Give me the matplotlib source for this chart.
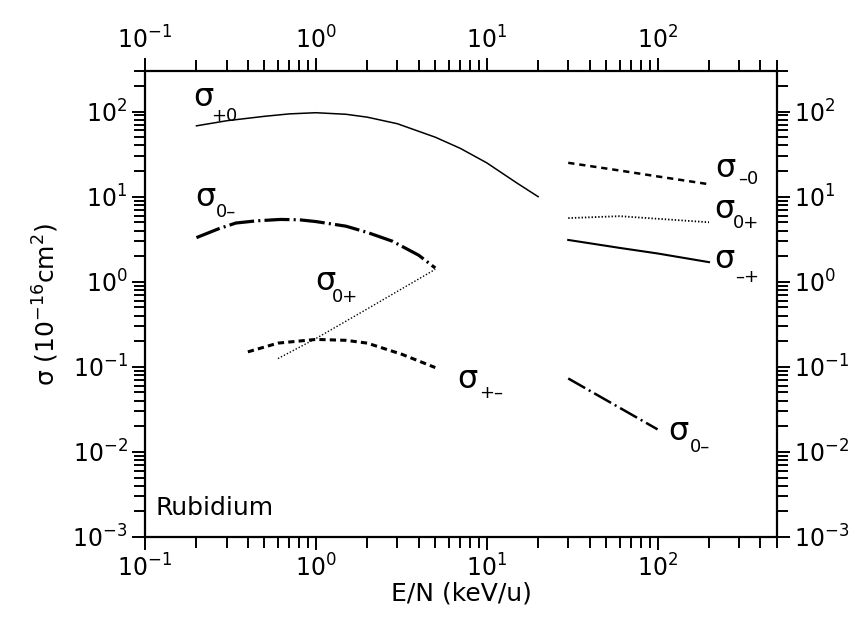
import matplotlib
matplotlib.use("Agg")
import matplotlib.pyplot as plt
from matplotlib.ticker import LogLocator, LogFormatterSciNotation, NullFormatter

plt.rcParams['font.family'] = ['DejaVu Sans']
plt.rcParams['lines.scale_dashes'] = False

#---Data----------------------------------------------------------------
# low energy branch
e_plus0 = [0.2, 0.3, 0.5, 0.7, 1.0, 1.5, 2.0, 3.0, 5.0, 7.0, 10.0, 15.0, 20.0]
s_plus0 = [68, 78, 88, 94, 97, 93, 86, 72, 50, 37, 25, 14.5, 10]

e_0minus = [0.2, 0.27, 0.34, 0.45, 0.62, 0.8, 1.0, 1.5, 2.0, 2.8, 4.0, 5.0]
s_0minus = [3.3, 4.2, 4.9, 5.2, 5.4, 5.35, 5.1, 4.5, 3.8, 3.0, 2.05, 1.45]

e_0plus = [0.6, 1.0, 2.0, 5.0]
s_0plus = [0.125, 0.215, 0.48, 1.4]

e_plusminus = [0.4, 0.6, 1.0, 1.5, 2.0, 3.2, 5.0]
s_plusminus = [0.15, 0.19, 0.21, 0.205, 0.19, 0.14, 0.098]

# high energy branch
e_hi = [30, 60, 100, 200]
s_minus0_hi = [25, 20.3, 17.3, 14]
s_0plus_hi = [5.6, 5.9, 5.5, 5.0]
s_minusplus_hi = [3.1, 2.5, 2.15, 1.7]

e_0minus_hi = [30, 100]
s_0minus_hi = [0.073, 0.0184]


#---Figure----------------------------------------------------------------
fig = plt.figure(figsize=(8.53, 6.33), dpi=100)
ax = fig.add_axes([145 / 853, 1 - 537 / 633, 632 / 853, 466 / 633])
ax.set_xscale('log')
ax.set_yscale('log')
ax.set_xlim(0.1, 500)
ax.set_ylim(1e-3, 300)

ax.plot(e_plus0, s_plus0, color='black', lw=1.1)
ax.plot(e_0minus, s_0minus, color='black', lw=2.3, dashes=(18, 3, 1.5, 3))
ax.plot(e_0plus, s_0plus, color='black', lw=1.0, dashes=(1, 1.4))
ax.plot(e_plusminus, s_plusminus, color='black', lw=2.2, dashes=(4.5, 3))

ax.plot(e_hi, s_minus0_hi, color='black', lw=1.8, dashes=(4.5, 3.5))
ax.plot(e_hi, s_0plus_hi, color='black', lw=1.3, dashes=(1, 1.4))
ax.plot(e_hi, s_minusplus_hi, color='black', lw=1.5)
ax.plot(e_0minus_hi, s_0minus_hi, color='black', lw=1.8, dashes=(14, 3, 1.5, 3))

# curve labels: sigma glyph + dropped subscript, in pixel coords of the figure
labels = [
    (203, 97, 224, 116, '+0'),
    (205, 198, 226, 212, '0\u2013'),
    (325, 281, 345, 297, '0+'),
    (467, 379, 491, 393, '+\u2013'),
    (725, 168, 748, 179, '\u20130'),
    (724, 210, 746, 223, '0+'),
    (724, 260, 747, 277, '\u2013+'),
    (678, 431, 700, 447, '0\u2013'),
]
for sx, sy, bx, by, sub in labels:
    fig.text(sx / 853, 1 - sy / 633, '\u03c3', fontsize=23, ha='center', va='center')
    fig.text(bx / 853, 1 - by / 633, sub, fontsize=13, ha='center', va='center')

ax.text(0.115, 2.2e-3, 'Rubidium', fontsize=18, ha='left', va='center')

#---Axes styling----------------------------------------------------------
for side in ['left', 'right', 'top', 'bottom']:
    ax.spines[side].set_linewidth(1.6)

for axis in [ax.xaxis, ax.yaxis]:
    axis.set_major_locator(LogLocator(base=10, numticks=20))
    axis.set_minor_locator(LogLocator(base=10, subs=range(2, 10), numticks=20))
    axis.set_major_formatter(LogFormatterSciNotation())
    axis.set_minor_formatter(NullFormatter())

ax.tick_params(which='both', direction='out', top=True, right=True,
               labeltop=True, labelright=True, width=1.4, labelsize=17)
ax.tick_params(which='major', length=9.5, pad=3)
ax.tick_params(which='minor', length=8)

ax.set_xlabel('E/N (keV/u)', fontsize=18, labelpad=0)
ax.set_ylabel('\u03c3 (10$^{-16}$cm$^2$)', fontsize=18, labelpad=8)

fig.savefig('out.png', dpi=100, facecolor='white')
